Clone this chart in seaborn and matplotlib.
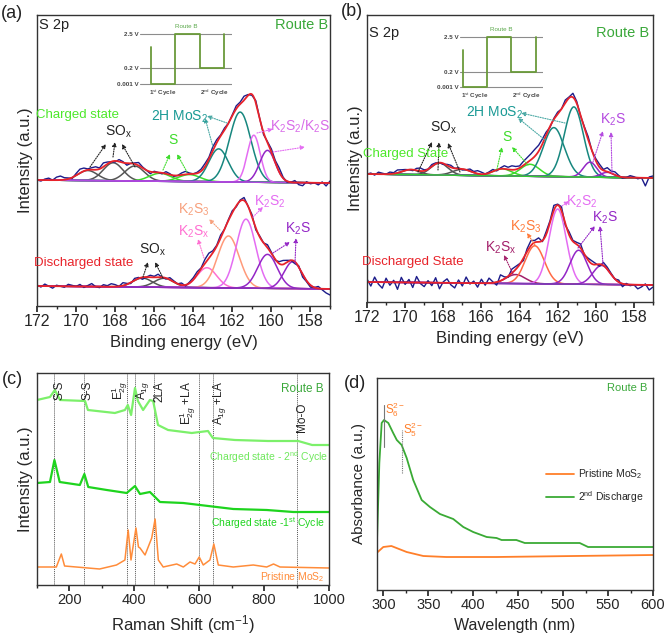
#!/usr/bin/env python3
"""Route B: S 2p XPS fits (a, b), Raman (c) and UV-vis (d)."""

import numpy as np
import matplotlib
matplotlib.use("Agg")
import matplotlib.pyplot as plt
from matplotlib.ticker import MultipleLocator
import seaborn as sns

W, H = 666, 639

# ================================================================
# XPS peak fits: centre (eV), height (a.u.), sigma (eV)
# ================================================================
A_CH_BASE = [126, 123]          # baseline at 172 eV / 157 eV
A_CH_CENTER = [169.4, 168.1, 167.0, 165.7, 164.2, 162.7, 161.6, 160.9, 160.2]
A_CH_HEIGHT = [10, 18, 15, 8, 7, 33, 70, 47, 32]
A_CH_SIGMA = [0.5, 0.5, 0.5, 0.55, 0.55, 0.5, 0.55, 0.33, 0.4]
A_CH_KIND = ["SOx", "SOx", "SOx", "S", "S", "MoS2", "MoS2", "K2S2", "K2S"]
A_CH_RESID = [0, -1, 1, 2, 0, 3, 4, 2, 1, -1, 2, 4, 3, 1, 2, 3, 1, 4, 2, 0,
              -1, 2, 1, -2, 0, 1, 3, 1, 0, -2, 1, 0, -1, 2, 1, -1, 0, 2, 3, 1,
              0, 1, 2, 3, 2, 4, 3, 1, 2, 0, 1, 3, 2, 4, 1, -1, 2, 0, -2, 1,
              3, 2, 4, 1, -1, 0, 2, -2, -3, 1, -1, 0, -2, 1, -3, 2]

A_DIS_BASE = [20, 17]
A_DIS_CENTER = [166.6, 165.5, 163.3, 162.2, 161.3, 160.2, 158.9]
A_DIS_HEIGHT = [9, 9, 20, 52, 69, 34, 27]
A_DIS_SIGMA = [0.5, 0.5, 0.5, 0.55, 0.5, 0.5, 0.45]
A_DIS_KIND = ["SOx", "SOx", "K2Sx", "K2S3", "K2S2", "K2S", "K2S"]
A_DIS_RESID = [1, -1, 2, 0, -2, 1, 0, -1, 2, 1, 0, 2, -1, 1, 3, 0, -1, 2, 1, 3,
               2, 0, 3, 1, -1, 2, 1, -2, 0, 2, 1, 3, 0, -1, 2, 1, 0, 2, -1, 1,
               2, 3, 1, 4, 5, 2, 1, 3, 0, 1, 2, -1, 1, 3, 0, 2, -2, 1, 0, 3,
               1, -1, 2, 4, 2, 0, -2, 1, -3, -1, -2, 0, 2, -1, -4, -6]

B_CH_BASE = [128, 124]
B_CH_CENTER = [169.7, 168.2, 167.0, 164.9, 163.45, 162.2, 161.15, 160.3, 159.4]
B_CH_HEIGHT = [5, 12, 6, 7, 12, 49, 70, 15, 5]
B_CH_SIGMA = [0.45, 0.45, 0.5, 0.5, 0.5, 0.55, 0.5, 0.35, 0.35]
B_CH_KIND = ["SOx", "SOx", "SOx", "S", "S", "MoS2", "MoS2", "K2S", "K2S"]
B_CH_RESID = [0, 1, -1, 2, 1, 0, 2, 1, 3, 2, 1, 0, -1, 2, 3, 1, 0, 2, 1, 0,
              -1, 1, 2, 0, 1, -1, 0, 2, 1, 3, 2, 0, 1, 2, -1, 1, 3, 2, 4, 3,
              2, 4, 5, 6, 7, 6, 5, 3, -1, 1, 2, 0, 3, 1, 4, 2, -1, 1, 3, 0,
              2, 3, 1, 4, 2, 3, 1, -1, 0, 2, 1, -1, 0, -8, 1, 2]

B_DIS_BASE = [20, 17]
B_DIS_CENTER = [164.2, 163.2, 162.0, 160.9, 159.7]
B_DIS_HEIGHT = [9, 38, 75, 34, 19]
B_DIS_SIGMA = [0.5, 0.5, 0.45, 0.45, 0.45]
B_DIS_KIND = ["K2Sx", "K2S3", "K2S2", "K2S", "K2S"]
B_DIS_RESID = [3, -4, 5, -2, -6, 4, -3, 2, -7, 5, -2, 3, -5, 6, -1, -4, 2, -3, 5, -6,
               1, 4, -2, -5, 3, -3, 6, -1, 2, -4, 4, -2, 5, 1, -3, 6, 2, -1, 4, 3,
               1, -2, 3, 5, 2, 4, -1, 3, 2, 5, 1, 4, -2, 3, 1, 2, 4, -1, 2, 3,
               1, -2, 3, 2, 1, 0, 2, -3, 1, -1, 0, -4, -2, 1, -5, -2]

# inset: schematic potential profile of route B
CYCLE_T = [0, 0, 1, 1, 2, 2, 3, 3]
CYCLE_LEVEL = [2.38, 0, 0, 3.17, 3.17, 1.0, 1.0, 3.17]
V_LEVEL = [3.17, 1.0, 0.0]
V_LABEL = ["2.5 V", "0.2 V", "0.001 V"]

# ================================================================
# Raman (c)
# ================================================================
RAMAN_MODES = [152, 245, 377, 402, 461, 599, 642, 901]
MODE_LABELS = ["S-S", "S-S", r"E$^{1}_{2g}$", r"A$_{1g}$", "2LA",
               r"E$^{1}_{2g}$ +LA", r"A$_{1g}$ +LA", "Mo-O"]
MODE_LABEL_X = [168, 257, 356, 424, 476, 565, 664, 917]

CH2_X = [100, 140, 155, 171, 248, 257, 340, 371, 380, 390, 402, 411, 427, 448,
         458, 473, 504, 577, 627, 642, 710, 812, 905, 948, 1000]
CH2_Y = [185, 188, 195, 185, 184, 175, 172, 175, 180, 170, 197, 184, 175, 185,
         184, 160, 155, 152, 154, 147, 145, 144, 144, 140, 140]

CH1_X = [100, 140, 153.7, 170, 232, 246, 258, 315, 376.5, 402, 417.5, 448,
         460.6, 479, 551, 602, 705, 808, 890, 1000]
CH1_Y = [102, 103, 125, 103, 100, 111, 98, 95, 92, 99, 91, 93, 89, 83, 82,
         80, 76, 75, 73, 73]

PRIS_X = [100, 159.6, 175, 185, 293, 345, 371, 381, 389.7, 405, 412.7, 417.5,
          433, 453.6, 464, 474, 489, 530.6, 551, 571.6, 587, 600, 612.4, 633,
          645, 658.8, 705, 766.6, 808, 829, 849, 1000]
PRIS_Y = [18, 18, 31, 19, 16, 20, 25, 55, 25, 57, 38, 37, 30, 47, 66, 25, 18,
          21, 18, 23, 21, 28, 20, 25, 41, 20, 18, 20, 18, 21, 18, 17]

# ================================================================
# UV-vis (d)
# ================================================================
DIS2_X = [292.6, 295.6, 298.2, 300.8, 305.6, 311, 315, 320.4, 326, 333.3,
          342.7, 351.9, 363, 377.8, 389, 400, 415, 426, 431.6, 448, 457.4,
          500, 518.5, 527.8, 600]
DIS2_Y = [37, 127, 167, 170, 167, 157, 150, 145, 132, 110, 90, 83, 76, 71, 63,
          58, 53, 52, 50, 50, 47, 47, 47, 43, 43]
PMOS_X = [292.6, 300, 309, 326, 344.5, 370, 426, 600]
PMOS_Y = [37, 43, 44, 38, 34, 33, 33, 35]
S6_NM, S5_NM = 300.8, 320.4

# ---------------- colours ----------------
NAVY, RED, GREEN = "#1c1c8a", "#e8232a", "#3aa83a"
COL_A = {"SOx": "#555555", "S": "#3ddc2a", "MoS2": "#17877f", "K2S2": "#e46cf2",
         "K2S": "#9326c6", "K2S3": "#ff9a7a", "K2Sx": "#ff70d2"}
COL_B = dict(COL_A, K2S3="#ff6a45", K2Sx="#a3206a")

E_FIT = np.linspace(172, 157, 601)
E_RAW = 172 - 0.2 * np.arange(76)

sns.set_theme(style="ticks")
plt.rcParams["font.family"] = ["Liberation Sans", "DejaVu Sans"]
plt.rcParams["mathtext.fontset"] = "custom"
plt.rcParams["mathtext.rm"] = "Liberation Sans"
plt.rcParams["mathtext.it"] = "Liberation Sans:italic"
plt.rcParams["axes.edgecolor"] = "#333333"
plt.rcParams["axes.linewidth"] = 1.0

fig = plt.figure(figsize=(W / 100, H / 100), dpi=100)


def rect(l, t, r, b):
    return [l / W, 1 - b / H, (r - l) / W, (b - t) / H]


def label(s, x, y, color="#222222", size=9, ha="center", va="center", **kw):
    fig.text(x / W, 1 - y / H, s, color=color, fontsize=size, ha=ha, va=va, **kw)


def arrow(ax, tail, head, color="#222222"):
    ax.annotate("", xy=(head[0], H - head[1]), xytext=(tail[0], H - tail[1]),
                xycoords="figure pixels", textcoords="figure pixels",
                arrowprops=dict(arrowstyle="-|>", color=color, lw=0.8,
                                ls=(0, (1, 1.2)), mutation_scale=6, shrinkA=0, shrinkB=0))


def gauss(e, c, h, s):
    return h * np.exp(-0.5 * ((e - c) / s) ** 2)


def draw_state(ax, base, centers, heights, sigmas, kinds, resid, colors, base_color):
    b_fit = np.interp(E_FIT, [157, 172], [base[1], base[0]])
    b_raw = np.interp(E_RAW, [157, 172], [base[1], base[0]])
    env_fit, env_raw = b_fit.copy(), b_raw.copy()
    for c, h, s, k in zip(centers, heights, sigmas, kinds):
        g = gauss(E_FIT, c, h, s)
        sns.lineplot(x=E_FIT, y=b_fit + g, color=colors[k], lw=1.1, ax=ax, estimator=None)
        env_fit += g
        env_raw += gauss(E_RAW, c, h, s)
    sns.lineplot(x=[172, 157], y=base, color=base_color, lw=1.1, ax=ax, estimator=None)
    sns.lineplot(x=E_RAW, y=env_raw + np.array(resid), color=NAVY, lw=1.0, ax=ax,
                 estimator=None)
    sns.lineplot(x=E_FIT, y=env_fit, color=RED, lw=1.3, ax=ax, estimator=None)


def style_xps(ax, ytop):
    ax.set_xlim(172, 157)
    ax.set_ylim(0, ytop)
    ax.set_yticks([])
    ax.xaxis.set_major_locator(MultipleLocator(2))
    ax.xaxis.set_minor_locator(MultipleLocator(1))
    ax.tick_params(axis="x", labelsize=11.5, length=4, direction="out", pad=2)
    ax.tick_params(axis="x", which="minor", length=2.5)
    ax.set_xlabel("Binding energy (eV)", fontsize=12, labelpad=4)
    ax.set_ylabel("Intensity (a.u.)", fontsize=12, labelpad=3)


def draw_inset(l, r, y0, ytop, xlim):
    scale = (y0 - ytop) / 3.17
    axi = fig.add_axes(rect(l, y0 - 3.4 * scale, r, y0 + 0.15 * scale))
    axi.patch.set_alpha(0)
    for lv in V_LEVEL:
        axi.axhline(lv, color="#8c8c8c", lw=0.8)
    sns.lineplot(x=CYCLE_T, y=CYCLE_LEVEL, sort=False, estimator=None,
                 color="#6a9a3a", lw=1.3, ax=axi)
    axi.set_xlim(*xlim)
    axi.set_ylim(-0.15, 3.4)
    axi.set_yticks(V_LEVEL, V_LABEL)
    axi.set_xticks([0.5, 2.6], [r"1$^{\rm st}$ Cycle", r"2$^{\rm nd}$ Cycle"])
    axi.tick_params(length=0, pad=1, labelsize=4.5, labelcolor="#444444")
    for t in axi.get_xticklabels() + axi.get_yticklabels():
        t.set_fontweight("bold")
    axi.set_xlabel("")
    axi.set_ylabel("")
    axi.set_title("Route B", fontsize=4.5, color="#5aa84a", pad=2)
    sns.despine(ax=axi, left=True, bottom=True)


# ================================================================
# (a)
# ================================================================
ax_a = fig.add_axes(rect(37, 15, 330, 306))
draw_state(ax_a, A_CH_BASE, A_CH_CENTER, A_CH_HEIGHT, A_CH_SIGMA, A_CH_KIND,
           A_CH_RESID, COL_A, "#b04be0")
draw_state(ax_a, A_DIS_BASE, A_DIS_CENTER, A_DIS_HEIGHT, A_DIS_SIGMA, A_DIS_KIND,
           A_DIS_RESID, COL_A, "#8a2fb8")
style_xps(ax_a, 291)
draw_inset(140, 232, 84, 34.3, (-0.44, 3.32))

label("(a)", 12, 14, size=13)
label("S 2p", 54, 25, size=10.5)
label("Route B", 302, 25, color=GREEN, size=10.5)
label("Charged state", 77, 115, color="#4de82a", size=9.5)
label(r"SO$_{\rm x}$", 118, 132, size=10)
label("S", 173, 140, color="#3ddc2a", size=10)
label(r"2H MoS$_2$", 180, 117, color="#1a9a95", size=10)
label(r"K$_2$S$_2$/K$_2$S", 300, 126, color="#d86ae8", size=10)
label("Discharged state", 84, 263, color=RED, size=9.5)
label(r"SO$_{\rm x}$", 152, 250, size=10)
label(r"K$_2$S$_3$", 194, 210, color="#f7a07c", size=10)
label(r"K$_2$S$_{\rm x}$", 194, 232, color="#ff70d2", size=10)
label(r"K$_2$S$_2$", 270, 202, color="#e46cf2", size=10)
label(r"K$_2$S", 298, 229, color="#9326c6", size=10)
for t, h in [((90, 167), (106, 144)), ((113, 157), (115, 142)), ((135, 167), (122, 144)),
             ((143, 277), (148, 262)), ((163, 278), (155, 262))]:
    arrow(ax_a, t, h)
for t, h in [((163, 170), (170, 154)), ((187, 172), (177, 154))]:
    arrow(ax_a, t, h, "#3ddc2a")
for t, h in [((213, 147), (205, 118)), ((227, 123), (207, 116))]:
    arrow(ax_a, t, h, "#4aa8a4")
arrow(ax_a, (257, 133), (273, 129), "#e46cf2")
arrow(ax_a, (273, 152), (305, 147), "#e46cf2")
arrow(ax_a, (204, 258), (198, 239), "#ff70d2")
arrow(ax_a, (220, 230), (209, 219), "#f7a07c")
arrow(ax_a, (253, 217), (263, 207), "#e46cf2")
arrow(ax_a, (273, 253), (290, 242), "#9326c6")
arrow(ax_a, (295, 263), (296, 238), "#9326c6")

# ================================================================
# (b)
# ================================================================
ax_b = fig.add_axes(rect(367, 15, 653, 302))
draw_state(ax_b, B_CH_BASE, B_CH_CENTER, B_CH_HEIGHT, B_CH_SIGMA, B_CH_KIND,
           B_CH_RESID, COL_B, "#33cc33")
draw_state(ax_b, B_DIS_BASE, B_DIS_CENTER, B_DIS_HEIGHT, B_DIS_SIGMA, B_DIS_KIND,
           B_DIS_RESID, COL_B, "#7a3fb0")
style_xps(ax_b, 287)
draw_inset(460, 543, 87.3, 37.3, (-0.11, 3.3))

label("(b)", 352, 12, size=13)
label("S 2p", 384, 33, size=10.5)
label("Route B", 623, 33, color=GREEN, size=10.5)
label("Charged State", 406, 154, color="#4de82a", size=9.5)
label(r"SO$_{\rm x}$", 443, 128, size=10)
label("S", 507, 137, color="#3ddc2a", size=10)
label(r"2H MoS$_2$", 495, 113, color="#1a9a95", size=10)
label(r"K$_2$S", 613, 120, color="#b44ae0", size=10)
label("Discharged State", 413, 262, color=RED, size=9.5)
label(r"K$_2$S$_{\rm x}$", 501, 248, color="#a3206a", size=10)
label(r"K$_2$S$_3$", 526, 227, color="#ff7a3a", size=10)
label(r"K$_2$S$_2$", 582, 202, color="#e46cf2", size=10)
label(r"K$_2$S", 605, 218, color="#9326c6", size=10)
for t, h in [((418, 172), (432, 142)), ((438, 170), (439, 142)), ((460, 172), (448, 143))]:
    arrow(ax_b, t, h)
for t, h in [((497, 169), (502, 147)), ((528, 165), (512, 147))]:
    arrow(ax_b, t, h, "#3ddc2a")
for t, h in [((565, 123), (521, 113)), ((545, 140), (518, 118))]:
    arrow(ax_b, t, h, "#4aa8a4")
arrow(ax_b, (593, 162), (603, 131), "#b44ae0")
arrow(ax_b, (612, 173), (611, 132), "#b44ae0")
arrow(ax_b, (513, 274), (504, 255), "#a3206a")
arrow(ax_b, (535, 245), (527, 233), "#ff7a3a")
arrow(ax_b, (562, 206), (569, 201), "#e46cf2")
arrow(ax_b, (578, 248), (595, 226), "#9326c6")
arrow(ax_b, (603, 264), (600, 226), "#9326c6")

# ================================================================
# (c) Raman
# ================================================================
ax_c = fig.add_axes(rect(37, 373, 329, 585))
for m in RAMAN_MODES:
    ax_c.axvline(m, color="#555555", lw=0.7, ls=(0, (1, 1)))
sns.lineplot(x=CH2_X, y=CH2_Y, color="#7cf06a", lw=1.6, ax=ax_c, estimator=None)
sns.lineplot(x=CH1_X, y=CH1_Y, color="#1ed41e", lw=1.6, ax=ax_c, estimator=None)
sns.lineplot(x=PRIS_X, y=PRIS_Y, color="#ff8c3a", lw=1.1, ax=ax_c, estimator=None)
ax_c.set_xlim(100, 1000)
ax_c.set_ylim(0, 212)
ax_c.set_yticks([])
ax_c.xaxis.set_major_locator(MultipleLocator(200))
ax_c.xaxis.set_minor_locator(MultipleLocator(100))
ax_c.tick_params(axis="x", labelsize=10.5, length=4, pad=2)
ax_c.tick_params(axis="x", which="minor", length=2.5)
ax_c.set_xlabel(r"Raman Shift (cm$^{-1}$)", fontsize=12, labelpad=4)
ax_c.set_ylabel("Intensity (a.u.)", fontsize=12, labelpad=3)
for lab, x in zip(MODE_LABELS, MODE_LABEL_X):
    ax_c.text(x, 585 - (403 if lab == "Mo-O" else 381), lab, rotation=90,
              ha="center", va="top", fontsize=8.5, color="#222222")

label("(c)", 12, 380, size=13)
label("Route B", 324, 389, color=GREEN, size=8.5, ha="right")
label(r"Charged state - 2$^{\rm nd}$ Cycle", 328, 457, color="#6fe85c", size=7.5, ha="right")
label(r"Charged state -1$^{\rm st}$ Cycle", 325, 523, color="#1ed41e", size=7.5, ha="right")
label(r"Pristine MoS$_2$", 325, 577, color="#ff8c3a", size=7.5, ha="right")

# ================================================================
# (d) UV-vis
# ================================================================
ax_d = fig.add_axes(rect(377, 378, 653, 590))
sns.lineplot(x=PMOS_X, y=PMOS_Y, color="#ff7f2a", lw=1.3, ax=ax_d, estimator=None,
             label=r"Pristine MoS$_2$")
sns.lineplot(x=DIS2_X, y=DIS2_Y, color="#3aaa35", lw=1.3, ax=ax_d, estimator=None,
             label=r"2$^{\rm nd}$ Discharge")
ax_d.plot([S6_NM, S6_NM], [143, 185], color="#777777", lw=0.8)
ax_d.plot([S5_NM, S5_NM], [117, 160], color="#777777", lw=0.8, ls=(0, (1, 1)))
ax_d.set_xlim(293, 600)
ax_d.set_ylim(0, 212)
ax_d.set_yticks([])
ax_d.xaxis.set_major_locator(MultipleLocator(50))
ax_d.xaxis.set_minor_locator(MultipleLocator(25))
ax_d.tick_params(axis="x", labelsize=10.5, length=4, pad=2)
ax_d.tick_params(axis="x", which="minor", length=2.5)
ax_d.set_xlabel("Wavelength (nm)", fontsize=11.5, labelpad=4)
ax_d.set_ylabel("Absorbance (a.u.)", fontsize=11, labelpad=8)
ax_d.legend(loc="center left", bbox_to_anchor=(0.58, 0.49), frameon=False,
            fontsize=7.5, handlelength=2.6, labelspacing=0.7, handletextpad=0.4)

label("(d)", 355, 383, size=13)
label("Route B", 647, 388, color=GREEN, size=8, ha="right")
label(r"S$_6^{2-}$", 385, 410, color="#ff7f2a", size=8.5, ha="left")
label(r"S$_5^{2-}$", 403, 430, color="#ff7f2a", size=8.5, ha="left")

fig.savefig("out.png", dpi=100)
